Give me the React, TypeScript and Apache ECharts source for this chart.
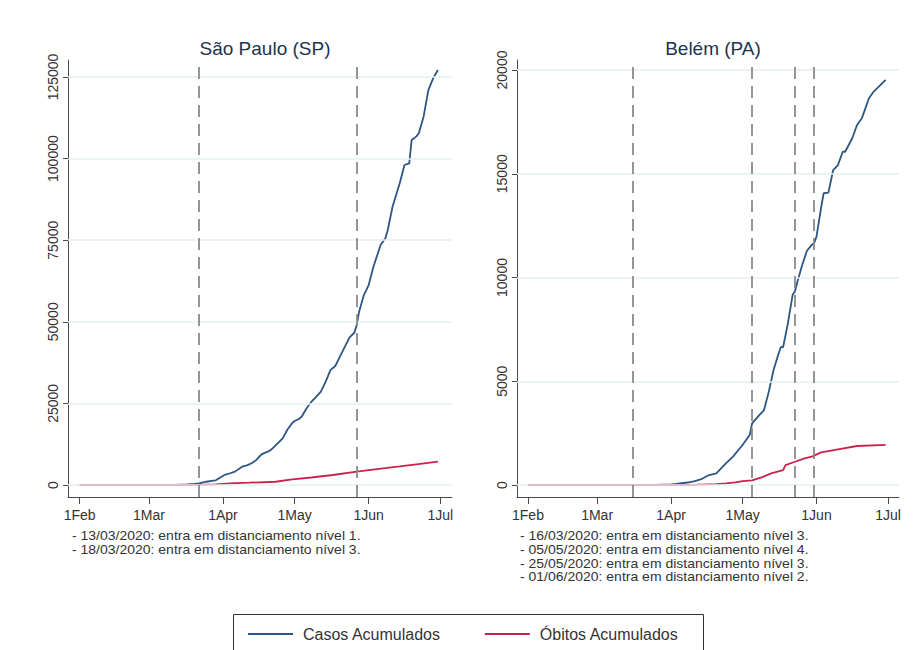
import React, { useEffect, useRef } from "react";
import * as echarts from "echarts";

// ---------- data ----------
const xTickDates = ["2020-02-01", "2020-03-01", "2020-04-01", "2020-05-01", "2020-06-01", "2020-07-01"];
const xTickLabels = ["1Feb", "1Mar", "1Apr", "1May", "1Jun", "1Jul"];

const spYTicks = [0, 25000, 50000, 75000, 100000, 125000];
const beYTicks = [0, 5000, 10000, 15000, 20000];

const spCaseDates = [
  "2020-02-01", "2020-02-25", "2020-02-26", "2020-03-05", "2020-03-12", "2020-03-17", "2020-03-20", "2020-03-22",
  "2020-03-25", "2020-03-28", "2020-03-29", "2020-03-31", "2020-04-02", "2020-04-04", "2020-04-06", "2020-04-09",
  "2020-04-11", "2020-04-13", "2020-04-15", "2020-04-17", "2020-04-18", "2020-04-20", "2020-04-21", "2020-04-24",
  "2020-04-26", "2020-04-28", "2020-04-30", "2020-05-01", "2020-05-03", "2020-05-04", "2020-05-06", "2020-05-08",
  "2020-05-10", "2020-05-12", "2020-05-14", "2020-05-16", "2020-05-18", "2020-05-21", "2020-05-24", "2020-05-26",
  "2020-05-27", "2020-05-28", "2020-05-30", "2020-06-01", "2020-06-03", "2020-06-06", "2020-06-08", "2020-06-09",
  "2020-06-11", "2020-06-14", "2020-06-16", "2020-06-18", "2020-06-19", "2020-06-21", "2020-06-22", "2020-06-24",
  "2020-06-26", "2020-06-28", "2020-06-30",
];
const spCases = [
  0, 0, 1, 5, 40, 160, 350, 500,
  1000, 1350, 1450, 2400, 3200, 3600, 4100, 5600,
  6000, 6650, 7700, 9300, 9700, 10300, 10700, 12800,
  14300, 17000, 19000, 19600, 20300, 21000, 23500, 25500,
  27000, 28600, 31650, 35200, 36450, 40850, 45250, 46650,
  49000, 53100, 58200, 61270, 66880, 73530, 75580, 78120,
  85260, 92430, 98040, 98560, 105700, 106800, 107750, 112840,
  121000, 124600, 127140,
];

const spDeathDates = [
  "2020-02-01", "2020-03-16", "2020-03-17", "2020-03-22", "2020-03-29", "2020-04-04", "2020-04-12", "2020-04-23",
  "2020-04-30", "2020-05-08", "2020-05-17", "2020-05-27", "2020-06-07", "2020-06-14", "2020-06-21", "2020-06-30",
];
const spDeaths = [0, 0, 1, 60, 200, 500, 700, 1000, 1750, 2300, 3060, 4080, 5100, 5700, 6330, 7150];

const beCaseDates = [
  "2020-02-01", "2020-03-17", "2020-03-18", "2020-03-25", "2020-04-01", "2020-04-03", "2020-04-08", "2020-04-11",
  "2020-04-14", "2020-04-17", "2020-04-20", "2020-04-22", "2020-04-24", "2020-04-27", "2020-04-29", "2020-05-01",
  "2020-05-03", "2020-05-04", "2020-05-05", "2020-05-08", "2020-05-10", "2020-05-12", "2020-05-14", "2020-05-16",
  "2020-05-17", "2020-05-18", "2020-05-20", "2020-05-22", "2020-05-23", "2020-05-24", "2020-05-26", "2020-05-28",
  "2020-05-30", "2020-05-31", "2020-06-01", "2020-06-02", "2020-06-03", "2020-06-04", "2020-06-06", "2020-06-08",
  "2020-06-10", "2020-06-12", "2020-06-13", "2020-06-16", "2020-06-18", "2020-06-20", "2020-06-23", "2020-06-25",
  "2020-06-30",
];
const beCases = [
  0, 0, 1, 8, 30, 50, 120, 190,
  300, 480, 560, 800, 1045, 1365, 1650, 1930,
  2250, 2410, 2970, 3370, 3610, 4500, 5540, 6300,
  6640, 6640, 7790, 9160, 9350, 9800, 10600, 11290,
  11570, 11650, 11970, 12690, 13410, 14060, 14090, 15180,
  15420, 16060, 16060, 16710, 17350, 17670, 18640, 18960,
  19520,
];

const beDeathDates = [
  "2020-02-01", "2020-04-01", "2020-04-10", "2020-04-20", "2020-04-24", "2020-04-28", "2020-05-01", "2020-05-05",
  "2020-05-09", "2020-05-13", "2020-05-18", "2020-05-19", "2020-05-23", "2020-05-27", "2020-05-30", "2020-06-03",
  "2020-06-10", "2020-06-18", "2020-06-30",
];
const beDeaths = [0, 0, 10, 40, 80, 130, 190, 225, 370, 560, 720, 960, 1120, 1285, 1365, 1575, 1720, 1880, 1930];

const spEventLines = ["2020-03-22", "2020-05-27"];
const beEventLines = ["2020-03-16", "2020-05-05", "2020-05-23", "2020-05-31"];

const spNotes = [
  "- 13/03/2020: entra em distanciamento nível 1.",
  "- 18/03/2020: entra em distanciamento nível 3.",
];
const beNotes = [
  "- 16/03/2020: entra em distanciamento nível 3.",
  "- 05/05/2020: entra em distanciamento nível 4.",
  "- 25/05/2020: entra em distanciamento nível 3.",
  "- 01/06/2020: entra em distanciamento nível 2.",
];

const titles = ["São Paulo (SP)", "Belém (PA)"];
const seriesNames = ["Casos Acumulados", "Óbitos Acumulados"];

// ---------- helpers ----------
const DAY = 86400000;
const ts = (s: string) => {
  const [y, m, d] = s.split("-").map(Number);
  return Date.UTC(y, m - 1, d);
};
const pairs = (dates: string[], vals: number[]) => dates.map((d, i) => [ts(d), vals[i]]);

const FONT = "Liberation Sans, Arial, sans-serif";
const BLUE = "#2d5680";
const RED = "#c8234c";
const AXIS = "#4a4a4a";
const TEXT = "#333333";
const GRIDC = "#e6eff1";

export default function App() {
  const ref = useRef<HTMLDivElement>(null);

  useEffect(() => {
    if (!ref.current) return;
    const chart = echarts.init(ref.current, undefined, { renderer: "svg" });

    const tickTs = xTickDates.map(ts);
    const labelFor = (v: number) => {
      const i = tickTs.findIndex((t) => Math.abs(t - v) < DAY / 2);
      return i >= 0 ? xTickLabels[i] : "";
    };

    const makeX = (gridIndex: number, padDays: number) => ({
      type: "value",
      gridIndex,
      min: ts(xTickDates[0]) - padDays * DAY,
      max: ts(xTickDates[xTickDates.length - 1]) + padDays * DAY,
      axisLine: { show: true, onZero: false, lineStyle: { color: AXIS, width: 1 } },
      axisTick: { show: true, length: 7, lineStyle: { color: AXIS }, customValues: tickTs },
      axisLabel: {
        show: true,
        customValues: tickTs,
        formatter: (v: number) => labelFor(v),
        fontFamily: FONT,
        fontSize: 14,
        color: TEXT,
        margin: 11,
        hideOverlap: false,
        showMinLabel: true,
        showMaxLabel: true,
      },
      splitLine: { show: false },
      minorTick: { show: false },
    });

    const makeY = (gridIndex: number, min: number, max: number, ticks: number[]) => ({
      type: "value",
      gridIndex,
      min,
      max,
      axisLine: { show: true, onZero: false, lineStyle: { color: AXIS, width: 1 } },
      axisTick: { show: true, length: 5, lineStyle: { color: AXIS }, customValues: ticks },
      axisLabel: {
        show: true,
        customValues: ticks,
        rotate: 90,
        formatter: (v: number) => String(v),
        fontFamily: FONT,
        fontSize: 14,
        color: TEXT,
        margin: 8,
        showMinLabel: true,
        showMaxLabel: true,
      },
      splitLine: { show: false },
    });

    // helper series (one point, no visible line) that carries the horizontal grid lines underneath everything
    const gridSeries = (idx: number, ticks: number[]) => ({
      name: "grid" + idx,
      type: "line",
      xAxisIndex: idx,
      yAxisIndex: idx,
      data: [[ts(xTickDates[0]), 0]],
      showSymbol: false,
      symbol: "none",
      z: 1,
      lineStyle: { width: 0, opacity: 0 },
      silent: true,
      markLine: {
        symbol: "none",
        silent: true,
        animation: false,
        label: { show: false },
        lineStyle: { color: GRIDC, width: 1.5, type: "solid" },
        data: ticks.map((t) => ({ yAxis: t })),
      },
    });
    const eventSeries = (idx: number, dates: string[]) => ({
      name: "events" + idx,
      type: "line",
      xAxisIndex: idx,
      yAxisIndex: idx,
      data: [[ts(xTickDates[0]), 0]],
      showSymbol: false,
      symbol: "none",
      z: 2,
      lineStyle: { width: 0, opacity: 0 },
      silent: true,
      markLine: {
        symbol: "none",
        silent: true,
        animation: false,
        label: { show: false },
        lineStyle: { color: "#8a8a8a", width: 1.8, type: [12, 7] },
        data: dates.map((d) => ({ xAxis: ts(d) })),
      },
    });

    const NOTE_SIZE = 13;
    const noteGraphics = (notes: string[], x: number) =>
      notes.map((t, i) => ({
        type: "text",
        x,
        y: 536 + i * 13.7,
        scaleX: 14 / NOTE_SIZE,
        style: {
          text: t,
          fontFamily: FONT,
          fontSize: NOTE_SIZE,
          fill: TEXT,
          textVerticalAlign: "middle",
          verticalAlign: "middle",
        },
      }));

    const lineSeries = (name: string, data: number[][], color: string, idx: number, z: number) => ({
      name,
      type: "line",
      xAxisIndex: idx,
      yAxisIndex: idx,
      data,
      showSymbol: false,
      symbol: "none",
      smooth: false,
      z,
      lineStyle: { color, width: 1.8 },
      itemStyle: { color },
    });

    const option: any = {
      animation: false,
      backgroundColor: "#ffffff",
      textStyle: { fontFamily: FONT },
      title: [
        {
          text: titles[0],
          left: 260,
          top: 34,
          textAlign: "center",
          textStyle: { fontFamily: FONT, fontSize: 19, fontWeight: "normal", color: "#1e3350" },
        },
        {
          text: titles[1],
          left: 708,
          top: 34,
          textAlign: "center",
          textStyle: { fontFamily: FONT, fontSize: 19, fontWeight: "normal", color: "#1e3350" },
        },
      ],
      grid: [
        { left: 68, top: 60, width: 384, height: 437, containLabel: false },
        { left: 517, top: 60, width: 382, height: 437, containLabel: false },
      ],
      xAxis: [makeX(0, 4.9), makeX(1, 4.6)],
      yAxis: [makeY(0, -3676, 130208, spYTicks), makeY(1, -578, 20482, beYTicks)],
      legend: {
        data: seriesNames,
        left: 243,
        top: 621,
        icon: "rect",
        itemWidth: 45,
        itemHeight: 2,
        itemGap: 44,
        textStyle: { fontFamily: FONT, fontSize: 16, color: TEXT, padding: [0, 0, 0, 5] },
      },
      graphic: [
        {
          type: "rect",
          shape: { x: 233.5, y: 614.5, width: 470, height: 50 },
          style: { fill: "none", stroke: "#333", lineWidth: 1 },
          silent: true,
          z: 0,
        },
        ...noteGraphics(spNotes, 72),
        ...noteGraphics(beNotes, 520),
      ],
      series: [
        gridSeries(0, spYTicks),
        gridSeries(1, beYTicks),
        eventSeries(0, spEventLines),
        eventSeries(1, beEventLines),
        lineSeries(seriesNames[0], pairs(spCaseDates, spCases), BLUE, 0, 3),
        lineSeries(seriesNames[1], pairs(spDeathDates, spDeaths), RED, 0, 4),
        lineSeries(seriesNames[0], pairs(beCaseDates, beCases), BLUE, 1, 3),
        lineSeries(seriesNames[1], pairs(beDeathDates, beDeaths), RED, 1, 4),
      ],
    };

    chart.setOption(option);
    return () => chart.dispose();
  }, []);

  return (
    <div
      ref={ref}
      style={{ position: "fixed", left: 0, top: 0, width: 917, height: 650, background: "#fff" }}
    />
  );
}
